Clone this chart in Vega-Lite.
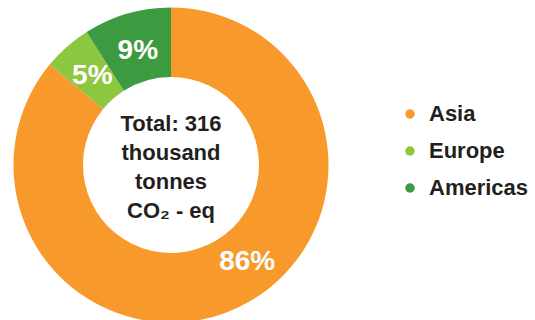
{
  "$schema": "https://vega.github.io/schema/vega-lite/v6.json",
  "width": 342,
  "height": 330,
  "autosize": {"type": "none"},
  "padding": {"left": 0, "top": 0, "right": 193, "bottom": 0},
  "background": "white",
  "config": {"view": {"stroke": null}, "font": "Liberation Sans"},
  "data": {"values": [
    {"region": "Asia", "share": 86, "label": "86%", "rank": 1},
    {"region": "Europe", "share": 5, "label": "5%", "rank": 2},
    {"region": "Americas", "share": 9, "label": "9%", "rank": 3}
  ]},
  "layer": [
    {
      "mark": {"type": "arc", "radius": 157.5, "radius2": 88},
      "encoding": {
        "theta": {"field": "share", "type": "quantitative", "stack": true},
        "order": {"field": "rank", "type": "quantitative"},
        "color": {
          "field": "region", "type": "nominal",
          "scale": {"domain": ["Asia", "Europe", "Americas"], "range": ["#F7992B", "#8DC63F", "#3C9B40"]},
          "legend": {
            "title": null, "orient": "none", "legendX": 399, "legendY": 103,
            "symbolType": "circle", "symbolSize": 90, "symbolStrokeWidth": 0,
            "labelFont": "Liberation Sans", "labelFontSize": 22, "labelFontWeight": "bold",
            "labelColor": "#231F20", "rowPadding": 15, "labelOffset": 8, "padding": 0
          }
        }
      }
    },
    {
      "mark": {"type": "text", "radius": 119, "fontSize": 28, "fontWeight": "bold", "fill": "white"},
      "encoding": {
        "theta": {"field": "share", "type": "quantitative", "stack": true},
        "order": {"field": "rank", "type": "quantitative"},
        "text": {"condition": {"test": "datum.region !== 'Asia'", "field": "label"}, "value": ""}
      }
    },
    {
      "mark": {"type": "text", "radius": 118, "fontSize": 28, "fontWeight": "bold", "fill": "white", "dx": 26, "dy": -10},
      "encoding": {
        "theta": {"field": "share", "type": "quantitative", "stack": true},
        "order": {"field": "rank", "type": "quantitative"},
        "text": {"condition": {"test": "datum.region === 'Asia'", "field": "label"}, "value": ""}
      }
    },
    {
      "data": {"values": [{"t": "Total: 316|thousand|tonnes|CO₂ - eq"}]},
      "mark": {"type": "text", "lineBreak": "|", "lineHeight": 29, "fontSize": 22, "fontWeight": "bold", "fill": "#231F20", "baseline": "middle", "align": "center", "dy": -41},
      "encoding": {"text": {"field": "t", "type": "nominal"}}
    }
  ]
}
